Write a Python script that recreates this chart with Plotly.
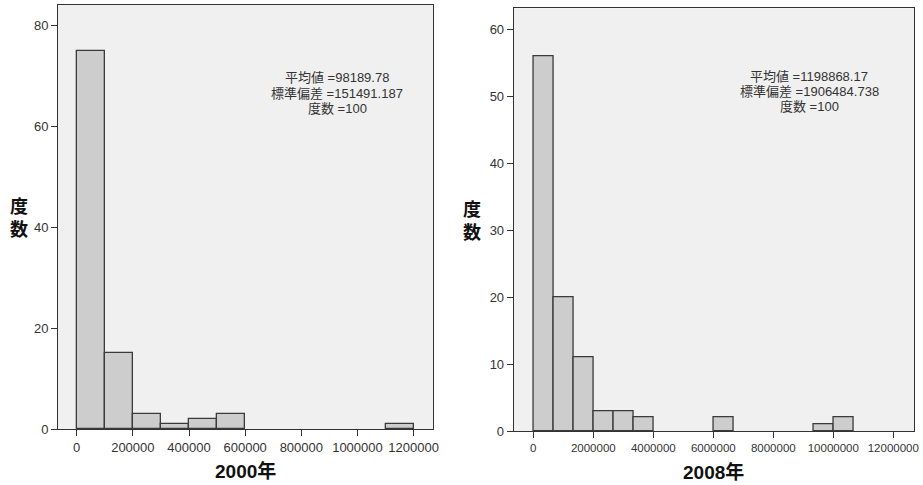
import plotly.graph_objects as go

# Histogram of 2000 values: bin left edges and counts (bin width 100000)
bins_2000 = [0, 100000, 200000, 300000, 400000, 500000, 1100000]
counts_2000 = [75, 15, 3, 1, 2, 3, 1]
width_2000 = 100000

# Histogram of 2008 values: bin left edges and counts (bin width 2000000/3)
width_2008 = 2000000 / 3
bin_index_2008 = [0, 1, 2, 3, 4, 5, 9, 14, 15]
counts_2008 = [56, 20, 11, 3, 3, 2, 2, 1, 2]
bins_2008 = [i * width_2008 for i in bin_index_2008]

stats_2000 = ["平均値 =98189.78", "標準偏差 =151491.187", "度数 =100"]
stats_2008 = ["平均値 =1198868.17", "標準偏差 =1906484.738", "度数 =100"]

ticks_2000 = [0, 200000, 400000, 600000, 800000, 1000000, 1200000]
ticks_2008 = [0, 2000000, 4000000, 6000000, 8000000, 10000000, 12000000]

FONT = "Liberation Sans, Noto Sans CJK JP, sans-serif"
CJK = "Noto Sans CJK JP, sans-serif"
BAR_FILL = "#cdcdcd"
EDGE = "#333333"
BG = "#f0f0f0"
W, H = 923, 485

fig = go.Figure()
fig.add_trace(go.Bar(
    x=bins_2000, y=counts_2000, width=width_2000, offset=0,
    marker=dict(color=BAR_FILL, line=dict(color="#3a3a3a", width=1.3)),
    xaxis="x", yaxis="y", showlegend=False, hoverinfo="x+y"))
fig.add_trace(go.Bar(
    x=bins_2008, y=counts_2008, width=width_2008, offset=0,
    marker=dict(color=BAR_FILL, line=dict(color="#3a3a3a", width=1.3)),
    xaxis="x2", yaxis="y2", showlegend=False, hoverinfo="x+y"))

axis_common = dict(
    showgrid=False, zeroline=False, showline=True, linecolor=EDGE, linewidth=1,
    mirror=True, ticks="outside", ticklen=6, tickcolor=EDGE, automargin=False,
    tickfont=dict(family=FONT, size=13, color="#333333"),
)

fig.update_layout(
    width=W, height=H,
    margin=dict(l=0, r=0, t=0, b=0, autoexpand=False),
    paper_bgcolor="white",
    plot_bgcolor=BG,
    bargap=0,
    font=dict(family=FONT, color="#333333"),
    xaxis=dict(domain=[58 / W, 433 / W], range=[-66600, 1269000],
               tickvals=ticks_2000, tickformat="d", anchor="y", **axis_common),
    yaxis=dict(domain=[1 - 429 / H, 1 - 5 / H], range=[0, 84.1],
               tickvals=[0, 20, 40, 60, 80], anchor="x", **axis_common),
    xaxis2=dict(domain=[513.7 / W, 914.3 / W], range=[-653000, 12700000],
                tickvals=ticks_2008, tickformat="d", anchor="y2",
                **{**axis_common, "tickfont": dict(family=FONT, size=11.5, color="#333333")}),
    yaxis2=dict(domain=[1 - 431 / H, 1 - 8.3 / H], range=[0, 63.1],
                tickvals=[0, 10, 20, 30, 40, 50, 60], anchor="x2", **axis_common),
)

annotations = []

# Summary statistics text blocks
for lines, cx, ys in [(stats_2000, 337, [78, 94, 109]), (stats_2008, 809, [76, 91, 106])]:
    for line, yy in zip(lines, ys):
        annotations.append(dict(
            x=cx / W, y=1 - yy / H, xref="paper", yref="paper",
            xanchor="center", yanchor="middle", showarrow=False,
            text=line, font=dict(family=FONT, size=13, color="#333333")))

# Vertical-stacked y-axis titles
for cx, cy in [(19, 217), (472.5, 220)]:
    annotations.append(dict(
        x=cx / W, y=1 - cy / H, xref="paper", yref="paper",
        xanchor="center", yanchor="middle", showarrow=False,
        text="<b>度</b><br><b>数</b>",
        font=dict(family=CJK, size=18, color="#111111")))

# X-axis titles
for txt, cx, cy in [("2000年", 245, 471), ("2008年", 713, 472)]:
    annotations.append(dict(
        x=cx / W, y=1 - cy / H, xref="paper", yref="paper",
        xanchor="center", yanchor="middle", showarrow=False,
        text=f"<b>{txt}</b>",
        font=dict(family=FONT, size=19, color="#111111")))

fig.update_layout(annotations=annotations)

fig.write_html("out.html")
